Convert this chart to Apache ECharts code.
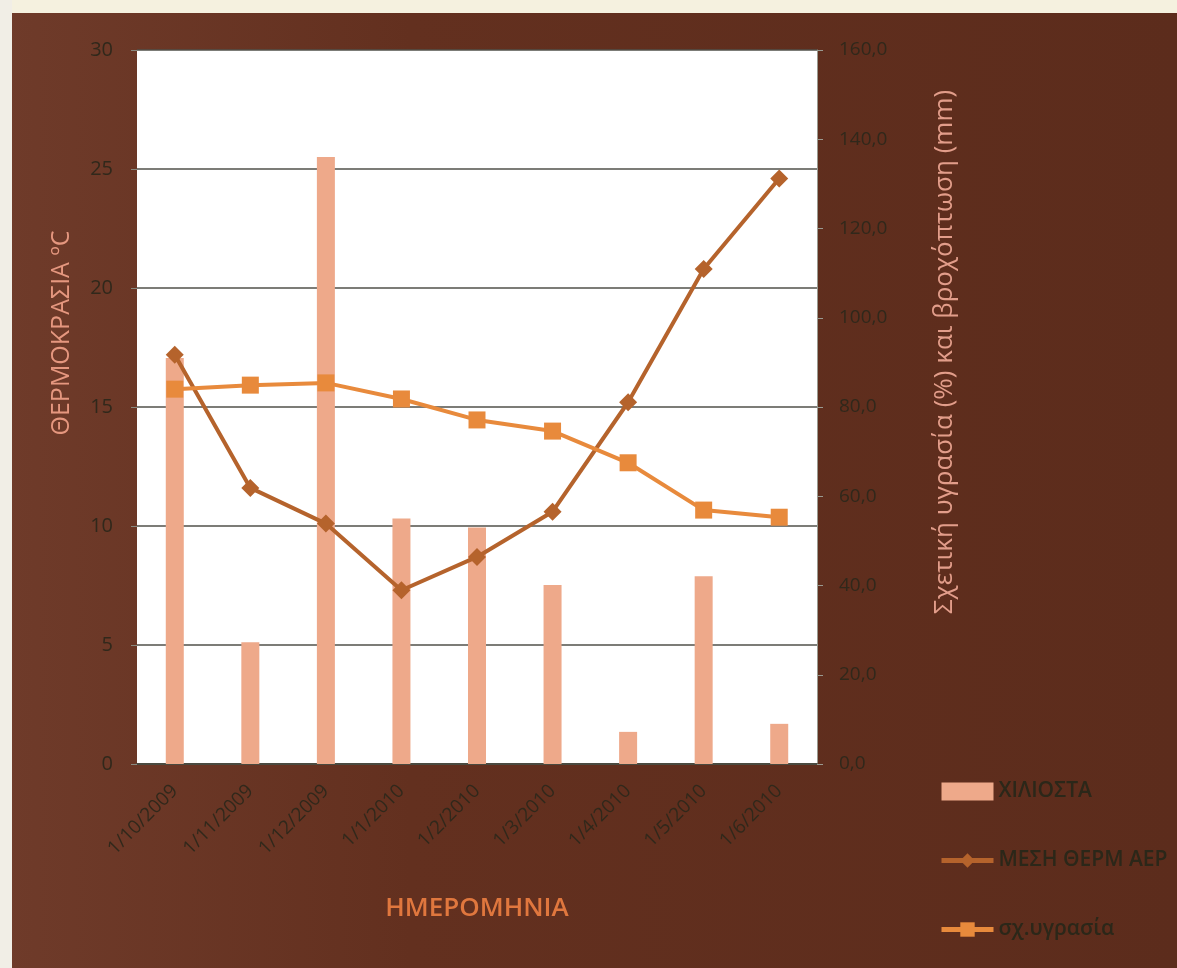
<!DOCTYPE html>
<html>
<head>
<meta charset="utf-8">
<script src="https://cdn.jsdelivr.net/npm/echarts@6/dist/echarts.min.js"></script>
<style>
  html, body { margin: 0; padding: 0; background: #f3efe2; }
  #chart { width: 1177px; height: 968px; }
</style>
</head>
<body>
<div id="chart"></div>
<script>
// Monthly weather record, Oct 2009 – Jun 2010
const categories = ['1/10/2009', '1/11/2009', '1/12/2009', '1/1/2010', '1/2/2010',
                    '1/3/2010', '1/4/2010', '1/5/2010', '1/6/2010'];
// rainfall in mm (right axis)
const rainfall = [91.0, 27.3, 136.0, 55.0, 53.0, 40.1, 7.2, 42.1, 9.0];
// mean air temperature in °C (left axis)
const meanTemp = [17.2, 11.6, 10.1, 7.3, 8.7, 10.6, 15.2, 20.8, 24.6];
// relative humidity in % (right axis)
const humidity = [84.0, 84.9, 85.4, 81.8, 77.1, 74.6, 67.5, 56.9, 55.3];

const seriesNames = ['ΧΙΛΙΟΣΤΑ', 'ΜΕΣΗ ΘΕΡΜ ΑΕΡ', 'σχ.υγρασία'];
const leftAxisTitle = 'ΘΕΡΜΟΚΡΑΣΙΑ ºC';
const rightAxisTitle = 'Σχετική υγρασία (%) και βροχόπτωση (mm)';
const xAxisTitle = 'ΗΜΕΡΟΜΗΝΙΑ';

const FONT = '"Open Sans", "Noto Sans", sans-serif';
const LABEL_DARK = '#30281b';

const chart = echarts.init(document.getElementById('chart'), null, { renderer: 'canvas' });

chart.setOption({
  backgroundColor: {
    type: 'linear', x: 0, y: 0, x2: 1, y2: 0,
    colorStops: [
      { offset: 0, color: '#6f3b2a' },
      { offset: 0.35, color: '#63301f' },
      { offset: 1, color: '#5c2c1c' }
    ]
  },
  animation: false,
  textStyle: { fontFamily: FONT },
  graphic: [
    // pale paper margin along the top and the left edge
    { type: 'rect', left: 0, top: 0, shape: { width: 1177, height: 13 },
      style: { fill: '#f5f1df' }, z: 100 },
    { type: 'rect', left: 0, top: 0, shape: { width: 12, height: 968 },
      style: { fill: '#f1eee6' }, z: 100 },
    // rotated axis titles
    { type: 'text', x: 62, y: 333, rotation: Math.PI / 2,
      style: { text: leftAxisTitle, fill: '#e5977f', font: '500 25px ' + FONT,
               align: 'center', verticalAlign: 'middle' } },
    { type: 'text', x: 945, y: 352, rotation: Math.PI / 2,
      style: { text: rightAxisTitle, fill: '#e29d8a', font: '26px ' + FONT,
               align: 'center', verticalAlign: 'middle' } }
  ],
  grid: {
    left: 137, right: 360, top: 50, bottom: 204,
    show: true, backgroundColor: '#ffffff', borderWidth: 0
  },
  legend: {
    orient: 'vertical',
    left: 934, top: 776,
    itemWidth: 52, itemHeight: 18,
    itemGap: 48,
    lineStyle: { width: 5 },
    textStyle: { color: '#2b2719', fontSize: 21, fontWeight: 600, fontFamily: FONT },
    data: [
      { name: seriesNames[0], icon: 'rect' },
      { name: seriesNames[1] },
      { name: seriesNames[2] }
    ]
  },
  xAxis: {
    type: 'category',
    data: categories,
    boundaryGap: true,
    name: xAxisTitle,
    nameLocation: 'middle',
    nameGap: 132,
    nameTextStyle: { color: '#e0773e', fontSize: 26, fontWeight: 600, fontFamily: FONT },
    axisLine: { lineStyle: { color: '#4a4a40', width: 2 } },
    axisTick: { show: false },
    axisLabel: { rotate: 45, color: LABEL_DARK, fontSize: 19, margin: 24, fontFamily: FONT }
  },
  yAxis: [
    {
      type: 'value', min: 0, max: 30, interval: 5, position: 'left',
      axisLine: { show: false },
      axisTick: { show: true, length: 6, lineStyle: { color: '#8a8a80' } },
      axisLabel: { color: LABEL_DARK, fontSize: 20, margin: 24, fontFamily: FONT },
      splitLine: { show: true, lineStyle: { color: '#50504a', width: 1.5 } }
    },
    {
      type: 'value', min: 0, max: 160, interval: 20, position: 'right',
      axisLine: { show: true, lineStyle: { color: '#9a9a90', width: 1 } },
      axisTick: { show: true, length: 6, lineStyle: { color: '#9a9a90' } },
      axisLabel: {
        color: LABEL_DARK, fontSize: 19, margin: 22, fontFamily: FONT,
        formatter: v => v.toFixed(1).replace('.', ',')
      },
      splitLine: { show: false }
    }
  ],
  series: [
    {
      name: seriesNames[0], type: 'bar', yAxisIndex: 1,
      data: rainfall, barWidth: 18,
      itemStyle: { color: '#eea98a' }
    },
    {
      name: seriesNames[1], type: 'line', yAxisIndex: 0,
      data: meanTemp,
      symbol: 'diamond', symbolSize: [18, 18],
      lineStyle: { color: '#b5632c', width: 4 },
      itemStyle: { color: '#b5632c' },
      z: 3
    },
    {
      name: seriesNames[2], type: 'line', yAxisIndex: 1,
      data: humidity,
      symbol: 'rect', symbolSize: 17,
      lineStyle: { color: '#e88a3c', width: 4 },
      itemStyle: { color: '#e88a3c' },
      z: 4
    }
  ]
});
</script>
</body>
</html>
